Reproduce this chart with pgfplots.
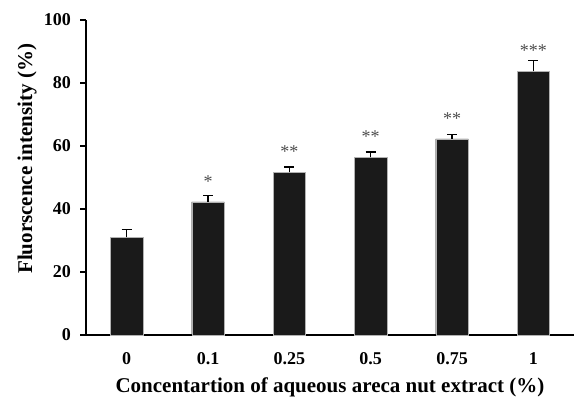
\documentclass[border=0pt]{standalone}
\usepackage{fontspec}
\setmainfont{Liberation Serif}
\usepackage{pgfplots}
\pgfplotsset{compat=1.18}
\usetikzlibrary{calc}
\definecolor{barfill}{HTML}{1A1A1A}
\begin{document}
\begin{tikzpicture}
\begin{axis}[
  name=ax,
  scale only axis, width=488pt, height=315pt,
  xmin=-0.5, xmax=5.5, ymin=0, ymax=100,
  axis x line*=bottom, axis y line*=left,
  axis line style={line width=1.7pt, black},
  /pgf/number format/assume math mode=true,
  ytick={0,20,...,100},
  xtick={0,1,2,3,4,5},
  xticklabels={0,0.1,0.25,0.5,0.75,1},
  major x tick style={draw=none},
  extra x ticks={-0.5,0.5,1.5,2.5,3.5,4.5,5.5},
  extra x tick labels={},
  extra x tick style={major tick length=6pt, tick style={line width=1.7pt, black}},
  major tick length=6pt,
  tick align=outside,
  y tick style={line width=1.7pt, black},
  tick label style={font=\fontsize{18}{21}\selectfont\bfseries},
  xticklabel style={anchor=base, inner sep=0pt, yshift=-23pt},
  yticklabel style={anchor=east, inner sep=0pt, xshift=-9pt},
  label style={font=\fontsize{21}{24}\selectfont\bfseries},
  xlabel={Concentartion of aqueous areca nut extract (\%)},
  ylabel={Fluorscence intensity (\%)},
  ylabel style={at={(axis description cs:0,0.559)}, anchor=center, rotate=0, yshift=59pt, inner sep=0pt},
  xlabel style={at={(axis description cs:0.5,0)}, anchor=base, yshift=-57pt, inner sep=0pt},
  clip=false,
]
\addplot[ybar, bar width=0.4, fill=barfill, draw=gray!60, line width=0.4pt,
  error bars/.cd, y dir=plus, y explicit,
  error bar style={line width=1.4pt, black},
  error mark options={rotate=90, mark size=5pt, line width=1.4pt, black}]
  table[x=x, y=y, y error=e] {
x y e
0 31.0 2.5
1 42.3 2.0
2 51.6 1.7
3 56.4 1.7
4 62.3 1.3
5 83.8 3.3
};
\node[anchor=north, font=\fontsize{18}{18}\selectfont, text=black!70, inner sep=0pt] at (axis cs:1,50.5) {*};
\node[anchor=north, font=\fontsize{18}{18}\selectfont, text=black!70, inner sep=0pt] at (axis cs:2,60.0) {**};
\node[anchor=north, font=\fontsize{18}{18}\selectfont, text=black!70, inner sep=0pt] at (axis cs:3,64.8) {**};
\node[anchor=north, font=\fontsize{18}{18}\selectfont, text=black!70, inner sep=0pt] at (axis cs:4,70.5) {**};
\node[anchor=north, font=\fontsize{18}{18}\selectfont, text=black!70, inner sep=0pt] at (axis cs:5,92.1) {***};
\end{axis}
\pgfresetboundingbox
\useasboundingbox ($(ax.south west)+(-86pt,-61pt)$) rectangle ($(ax.north east)+(4pt,20pt)$);
\end{tikzpicture}
\end{document}
